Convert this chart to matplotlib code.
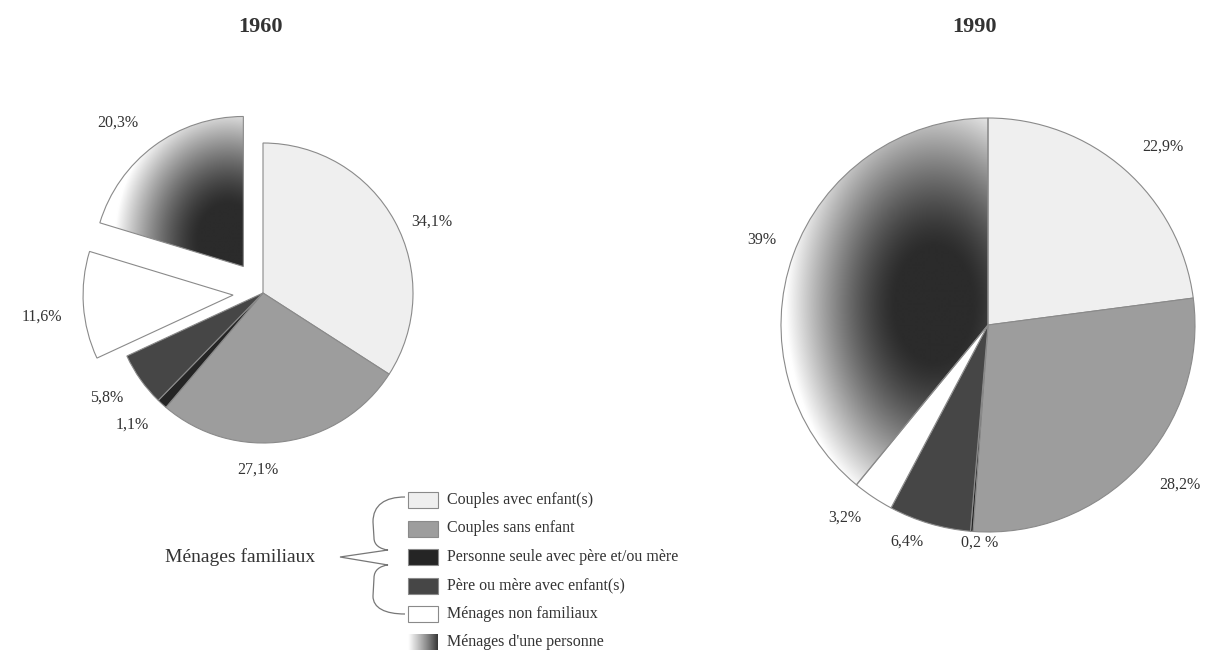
import numpy as np
import matplotlib.pyplot as plt
from matplotlib.path import Path
from matplotlib.patches import PathPatch, Rectangle

W, H = 1209, 655

categories = ["Couples avec enfant(s)", "Couples sans enfant",
              "Personne seule avec père et/ou mère", "Père ou mère avec enfant(s)",
              "Ménages non familiaux", "Ménages d'une personne"]
values_1960 = [34.1, 27.1, 1.1, 5.8, 11.6, 20.3]
values_1990 = [22.9, 28.2, 0.2, 6.4, 3.2, 39.0]
labels_1960 = ["34,1%", "27,1%", "1,1%", "5,8%", "11,6%", "20,3%"]
labels_1990 = ["22,9%", "28,2%", "0,2 %", "6,4%", "3,2%", "39%"]
years = ["1960", "1990"]
group_label = "Ménages familiaux"

colors = ["#efefef", "#9d9d9d", "#252525", "#464646", "white", "white"]
edge = "#8a8a8a"

plt.rcParams['font.family'] = ['Liberation Serif', 'DejaVu Serif']

# layout, image pixel coords (y down)
pie_center = [(263, 293), (988, 325)]
pie_radius = [150, 207]
explode = [[0, 0, 0, 0, 30, 33], [0, 0, 0, 0, 0, 0]]
# gradient of the one-person wedge: centre shift (x, y up) and spread, in radius units
grad_params = [(-0.10, 0.17, 0.78, 0.95), (-0.26, 0.10, 0.74, 1.08)]
label_pos = [[(432, 222), (258, 470), (132, 425), (107, 398), (42, 317), (118, 123)],
             [(1163, 147), (1180, 485), (980, 543), (907, 542), (845, 518), (762, 240)]]
title_pos = [(260, 27), (974, 27)]


def Y(y):
    return H - y


def fill_gradient(ax, wedge, gx, gy, sx, sy, dark=0.17):
    cx, cy = wedge.center
    r = wedge.r
    xs = np.arange(cx - r - 3, cx + r + 3)
    ys = np.arange(cy - r - 3, cy + r + 3)
    xx, yy = np.meshgrid(xs, ys)
    d = np.hypot((xx - (cx + gx * r)) / (sx * r), (yy - (cy + gy * r)) / (sy * r))
    t = np.clip((d - 0.25) / 0.72, 0, 1) ** 1.4
    val = dark + (1 - dark) * t
    im = ax.imshow(val, cmap="gray", vmin=0, vmax=1, origin="lower",
                   extent=(xs[0], xs[-1], ys[0], ys[-1]),
                   interpolation="bilinear", zorder=0.5)
    im.set_clip_path(wedge)
    wedge.set_facecolor("none")


fig = plt.figure(figsize=(W / 100, H / 100), dpi=100)
ax = fig.add_axes([0, 0, 1, 1])

for i, vals in enumerate([values_1960, values_1990]):
    cx, cy = pie_center[i]
    wedges, _ = ax.pie(vals, colors=colors, explode=explode[i], startangle=90,
                       counterclock=False, radius=pie_radius[i], center=(cx, Y(cy)),
                       wedgeprops=dict(edgecolor=edge, linewidth=0.8))
    fill_gradient(ax, wedges[5], *grad_params[i])
    labs = [labels_1960, labels_1990][i]
    for lab, (lx, ly) in zip(labs, label_pos[i]):
        ax.text(lx, Y(ly), lab, fontsize=11.5, ha="center", va="center", color="#333333")
    tx, ty = title_pos[i]
    ax.text(tx, Y(ty), years[i], fontsize=16, fontweight="bold", ha="center",
            va="center", color="#333333")

# legend
box_x, box_w, box_h = 408, 30, 16
row0, row_step = 500, 28.5
for k, cat in enumerate(categories):
    yc = row0 + k * row_step
    if k == 5:
        grad = np.linspace(1.0, 0.15, 60) ** 0.8
        ax.imshow(grad[None, :], cmap="gray", vmin=0, vmax=1, origin="lower",
                  extent=(box_x, box_x + box_w, Y(yc + box_h / 2), Y(yc - box_h / 2)),
                  interpolation="bilinear", zorder=2)
    else:
        ax.add_patch(Rectangle((box_x, Y(yc + box_h / 2)), box_w, box_h,
                               facecolor=colors[k], edgecolor=edge, linewidth=0.8))
    ax.text(box_x + box_w + 9, Y(yc), cat, fontsize=11.5, ha="left", va="center",
            color="#333333")

# brace for family households
verts = [(405, 497), (385, 497), (373, 505), (373, 522),
         (374, 538),
         (374, 545), (380, 549), (388, 550),
         (340, 557),
         (388, 565),
         (380, 566), (374, 570), (374, 578),
         (373, 596),
         (373, 608), (385, 614), (405, 614)]
codes = [Path.MOVETO, Path.CURVE4, Path.CURVE4, Path.CURVE4,
         Path.LINETO,
         Path.CURVE4, Path.CURVE4, Path.CURVE4,
         Path.LINETO,
         Path.LINETO,
         Path.CURVE4, Path.CURVE4, Path.CURVE4,
         Path.LINETO,
         Path.CURVE4, Path.CURVE4, Path.CURVE4]
brace = Path([(x, Y(y)) for x, y in verts], codes)
ax.add_patch(PathPatch(brace, facecolor="none", edgecolor="#777777", linewidth=0.9))
ax.text(315, Y(557), group_label, fontsize=14, ha="right", va="center", color="#333333")

ax.set_xlim(0, W)
ax.set_ylim(0, H)
ax.set_aspect("equal")
ax.axis("off")

fig.savefig("out.png", dpi=100)
